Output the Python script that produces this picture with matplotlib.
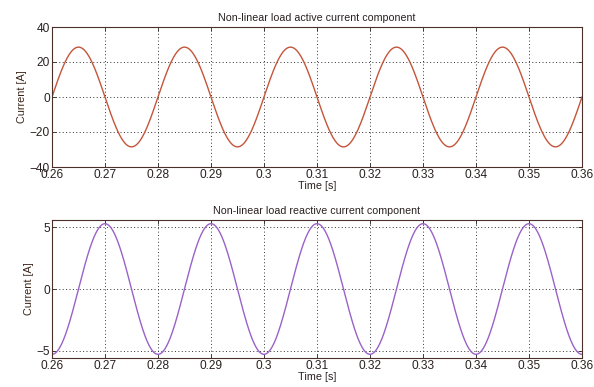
import numpy as np
import matplotlib
matplotlib.use("Agg")
import matplotlib.pyplot as plt

# Values (50 Hz sinusoids)
t_start, t_end = 0.26, 0.36
freq_hz = 50.0
active_amp = 28.5      # A, peak of active component
reactive_amp = 5.3     # A, peak of reactive component
xticks = [0.26, 0.27, 0.28, 0.29, 0.30, 0.31, 0.32, 0.33, 0.34, 0.35, 0.36]
xticklabels = ["0.26", "0.27", "0.28", "0.29", "0.3", "0.31", "0.32", "0.33", "0.34", "0.35", "0.36"]
top_yticks = [-40, -20, 0, 20, 40]
bot_yticks = [-5, 0, 5]

t = np.linspace(t_start, t_end, 2000)
active = active_amp * np.sin(2 * np.pi * freq_hz * (t - t_start))
reactive = -reactive_amp * np.cos(2 * np.pi * freq_hz * (t - t_start))

plt.rcParams['font.family'] = ['Liberation Sans', 'DejaVu Sans']
W, H = 594, 387
fig = plt.figure(figsize=(W / 100, H / 100), dpi=100)

def axrect(l, t_, r, b):
    return [l / W, 1 - b / H, (r - l) / W, (b - t_) / H]

txtc = "#2a2020"
spc = "#4a3028"

ax1 = fig.add_axes(axrect(52, 27, 582, 167))
ax2 = fig.add_axes(axrect(52, 220, 582, 358))

for ax in (ax1, ax2):
    ax.set_xlim(t_start, t_end)
    ax.set_xticks(xticks)
    ax.set_xticklabels(xticklabels)
    ax.grid(True, linestyle=(0, (1, 2.5)), color="#333333", linewidth=0.7)
    ax.tick_params(labelsize=8.6, colors=txtc, direction="in", length=3, width=0.6,
                   top=True, right=True, pad=1.5)
    for s in ax.spines.values():
        s.set_color(spc)
        s.set_linewidth(0.8)
    ax.set_xlabel("Time [s]", fontsize=7.8, color=txtc, labelpad=0)
    ax.set_ylabel("Current [A]", fontsize=7.8, color="#3a2418", labelpad=2)

ax1.plot(t, active, color="#c4553a", linewidth=1.0)
ax1.set_ylim(-40, 40)
ax1.set_yticks(top_yticks)
ax1.set_title("Non-linear load active current component", fontsize=7.7, color=txtc, pad=4)

ax2.plot(t, reactive, color="#9a62c8", linewidth=1.0)
ax2.set_ylim(-5.6, 5.6)
ax2.set_yticks(bot_yticks)
ax2.set_title("Non-linear load reactive current component", fontsize=7.7, color=txtc, pad=4)

fig.savefig("out.png", dpi=100)
